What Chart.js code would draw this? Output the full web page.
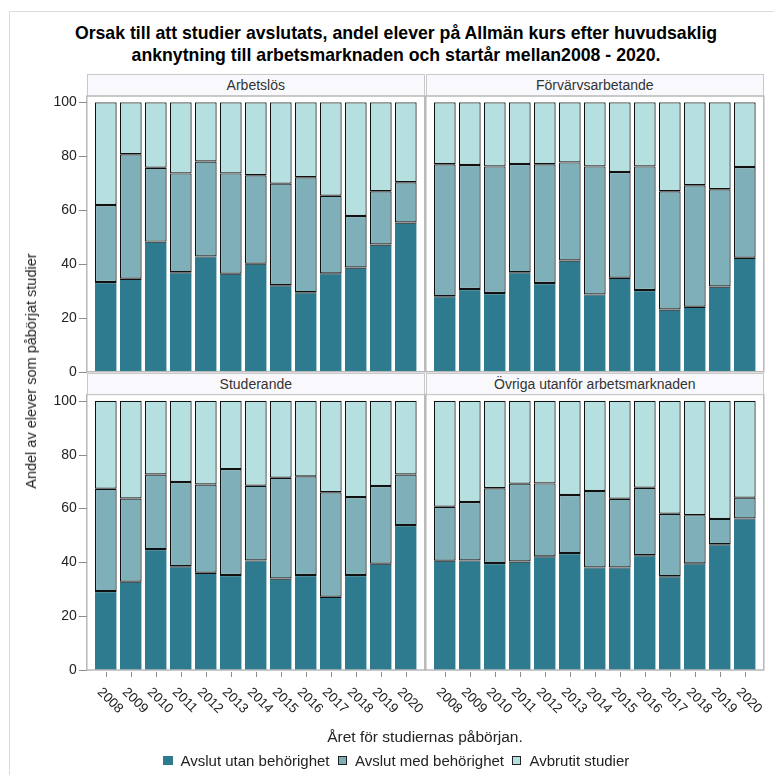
<!DOCTYPE html>
<html>
<head>
<meta charset="utf-8">
<script src="https://cdn.jsdelivr.net/npm/chart.js@4.4.0/dist/chart.umd.min.js"></script>
<style>
body { margin: 0; background: #fff; font-family: "Liberation Sans", Arial, sans-serif; }
#wrap { position: relative; width: 774px; height: 775px; overflow: hidden; }
.outer { position: absolute; left: 9px; top: 11px; width: 800px; height: 800px; border-left: 1px solid #dcdcdc; border-top: 1px solid #dcdcdc; }
.title { position: absolute; left: 0; width: 792px; top: 22px; text-align: center; font-weight: bold; font-size: 17.7px; line-height: 22px; color: #000; }
canvas { position: absolute; }
.strip { position: absolute; width: 338px; background: #f9f9fd; border: 1px solid #c8c8c8; box-sizing: border-box; text-align: center; font-size: 14px; color: #333; }
.ylab { position: absolute; left: 31px; top: 371px; transform: translate(-50%, -50%) rotate(-90deg); white-space: nowrap; font-size: 14.5px; color: #222; }
.xlab { position: absolute; left: 425px; top: 737px; transform: translate(-50%, -50%); white-space: nowrap; font-size: 15.5px; color: #222; }
#legend { position: absolute; left: 163px; top: 752px; display: flex; align-items: center; font-size: 15px; color: #222; white-space: nowrap; }
#legend .sw { display: inline-block; width: 9.5px; height: 9.5px; margin-right: 8px; box-sizing: border-box; }
#legend .it { display: flex; align-items: center; margin-right: 8px; }
</style>
</head>
<body>
<div id="wrap">
  <div class="outer"></div>
  <div class="title">Orsak till att studier avslutats, andel elever på Allmän kurs efter huvudsaklig<br>anknytning till arbetsmarknaden och startår mellan2008 - 2020.</div>
  <canvas id="c0" width="430" height="320" style="left:0;top:60px"></canvas>
  <canvas id="c1" width="354" height="320" style="left:420px;top:60px"></canvas>
  <canvas id="c2" width="430" height="395" style="left:0;top:380px"></canvas>
  <canvas id="c3" width="354" height="395" style="left:420px;top:380px"></canvas>
  <div class="strip" style="left:86.8px;top:73.5px;height:22.5px;line-height:20px">Arbetslös</div>
  <div class="strip" style="left:425.8px;top:73.5px;height:22.5px;line-height:20px">Förvärvsarbetande</div>
  <div class="strip" style="left:86.8px;top:372.5px;height:22px;line-height:20px">Studerande</div>
  <div class="strip" style="left:425.8px;top:372.5px;height:22px;line-height:20px">Övriga utanför arbetsmarknaden</div>
  <div class="ylab">Andel av elever som påbörjat studier</div>
  <div class="xlab">Året för studiernas påbörjan.</div>
  <div id="legend"></div>
</div>
<script>
const years = ['2008', '2009', '2010', '2011', '2012', '2013', '2014', '2015', '2016', '2017', '2018', '2019', '2020'];
const seriesNames = ['Avslut utan behörighet', 'Avslut med behörighet', 'Avbrutit studier'];
const panelNames = ['Arbetslös', 'Förvärvsarbetande', 'Studerande', 'Övriga utanför arbetsmarknaden'];
const yTicks = [0, 20, 40, 60, 80, 100];

// Arbetslös
const arbUtan = [33.3, 34.5, 48.3, 36.9, 42.8, 36.4, 40.1, 32.1, 29.5, 36.5, 38.7, 47.2, 55.4];
const arbMed = [28.6, 46.2, 27.4, 36.7, 35.2, 37.2, 32.8, 37.7, 42.7, 28.8, 19.1, 19.8, 14.9];
const arbAvbr = [38.1, 19.3, 24.3, 26.4, 22.0, 26.4, 27.1, 30.2, 27.8, 34.7, 42.2, 33.0, 29.7];

// Förvärvsarbetande
const forvUtan = [28.0, 30.7, 29.2, 36.9, 32.9, 41.3, 28.7, 34.9, 30.3, 23.1, 24.1, 31.6, 42.3];
const forvMed = [49.0, 46.0, 47.0, 40.2, 44.1, 36.4, 47.5, 39.2, 45.9, 43.9, 45.1, 36.1, 33.7];
const forvAvbr = [23.0, 23.3, 23.8, 22.9, 23.0, 22.3, 23.8, 25.9, 23.8, 33.0, 30.8, 32.3, 24.0];

// Studerande
const studUtan = [29.3, 32.8, 44.9, 38.5, 36.1, 35.3, 40.7, 34.0, 35.3, 27.2, 35.3, 39.5, 53.8];
const studMed = [38.0, 30.9, 27.7, 31.3, 32.8, 39.3, 27.7, 37.4, 36.6, 38.8, 28.9, 28.8, 18.8];
const studAvbr = [32.7, 36.3, 27.4, 30.2, 31.1, 25.4, 31.6, 28.6, 28.1, 34.0, 35.8, 31.7, 27.4];

// Övriga utanför arbetsmarknaden
const ovrUtan = [40.6, 40.7, 39.7, 40.3, 42.2, 43.4, 38.1, 38.1, 42.6, 34.8, 39.6, 46.7, 56.3];
const ovrMed = [20.0, 21.7, 27.8, 28.9, 27.1, 21.6, 28.4, 25.5, 25.1, 23.2, 17.9, 9.4, 7.7];
const ovrAvbr = [39.4, 37.6, 32.5, 30.8, 30.7, 35.0, 33.5, 36.4, 32.3, 42.0, 42.5, 43.9, 36.0];

const colors = ['#2e7b8f', '#7fb0b9', '#b6dfe0'];
const edge = '#111';
const fontFam = '"Liberation Sans", Arial, sans-serif';

const panelData = [
    [arbUtan, arbMed, arbAvbr],
    [forvUtan, forvMed, forvAvbr],
    [studUtan, studMed, studAvbr],
    [ovrUtan, ovrMed, ovrAvbr]
];

// frame, y tick labels, tick marks and rotated year labels around each panel
const panelDeco = {
    id: 'panelDeco',
    afterDraw(chart, args, opts) {
        const a = chart.chartArea;
        const ctx = chart.ctx;
        const L = a.left - 6.5, R = a.right + 6.5, T = a.top - 6.3, B = a.bottom;
        ctx.save();
        ctx.strokeStyle = '#b8b8b8';
        ctx.lineWidth = 1.5;
        ctx.strokeRect(L, T, R - L, B - T);
        ctx.strokeStyle = '#8c8c8c';
        ctx.lineWidth = 1;
        if (opts.yTicks) {
            const ys = chart.scales.y;
            ctx.fillStyle = '#222';
            ctx.font = '14px ' + fontFam;
            ctx.textAlign = 'right';
            ctx.textBaseline = 'middle';
            yTicks.forEach(v => {
                const y = Math.round(ys.getPixelForValue(v)) + 0.5;
                ctx.beginPath();
                ctx.moveTo(L - 8, y);
                ctx.lineTo(L, y);
                ctx.stroke();
                ctx.fillText(String(v), L - 10, y);
            });
        }
        if (opts.xLabels) {
            const xs = chart.scales.x;
            ctx.fillStyle = '#222';
            ctx.font = '13.5px ' + fontFam;
            ctx.textAlign = 'left';
            ctx.textBaseline = 'middle';
            chart.data.labels.forEach((lab, i) => {
                const x = Math.round(xs.getPixelForValue(i)) + 0.5;
                ctx.beginPath();
                ctx.moveTo(x, B + 2);
                ctx.lineTo(x, B + 7);
                ctx.stroke();
                ctx.save();
                ctx.translate(x - 7, B + 20);
                ctx.rotate(Math.PI / 4);
                ctx.fillText(lab, 0, 0);
                ctx.restore();
            });
        }
        ctx.restore();
    }
};

function makePanel(idx) {
    const isLeft = idx % 2 === 0;
    const isBottom = idx >= 2;
    const series = panelData[idx];
    const datasets = series.map((vals, s) => ({
        label: seriesNames[s],
        data: vals,
        backgroundColor: colors[s],
        borderColor: edge,
        borderWidth: s === 0 ? { top: 1.2, right: 0, bottom: 0, left: 0 } : 1.2,
        borderSkipped: false,
        inflateAmount: 0,
        categoryPercentage: 1,
        barPercentage: 0.868
    }));
    const config = {
        type: 'bar',
        data: { labels: years, datasets: datasets },
        options: {
            responsive: false,
            animation: false,
            layout: {
                autoPadding: false,
                padding: {
                    left: isLeft ? 93.3 : 12.3,
                    right: isLeft ? 11.7 : 16.7,
                    top: isBottom ? 20.7 : 42.3,
                    bottom: isBottom ? 105 : 8.3
                }
            },
            plugins: {
                legend: { display: false },
                tooltip: { enabled: false },
                panelDeco: { yTicks: isLeft, xLabels: isBottom }
            },
            scales: {
                x: {
                    stacked: true,
                    display: false,
                    ticks: { display: false },
                    grid: { display: false, drawTicks: false }
                },
                y: {
                    stacked: true,
                    display: false,
                    min: 0,
                    max: 100,
                    ticks: { display: false },
                    grid: { display: false, drawTicks: false }
                }
            }
        },
        plugins: [panelDeco]
    };
    new Chart(document.getElementById('c' + idx), config);
}

for (let i = 0; i < 4; i++) makePanel(i);

// legend
const legend = document.getElementById('legend');
seriesNames.forEach((name, s) => {
    const it = document.createElement('span');
    it.className = 'it';
    const sw = document.createElement('span');
    sw.className = 'sw';
    sw.style.background = colors[s];
    if (s > 0) sw.style.border = '1px solid #222';
    it.appendChild(sw);
    it.appendChild(document.createTextNode(name));
    legend.appendChild(it);
});
</script>
</body>
</html>
